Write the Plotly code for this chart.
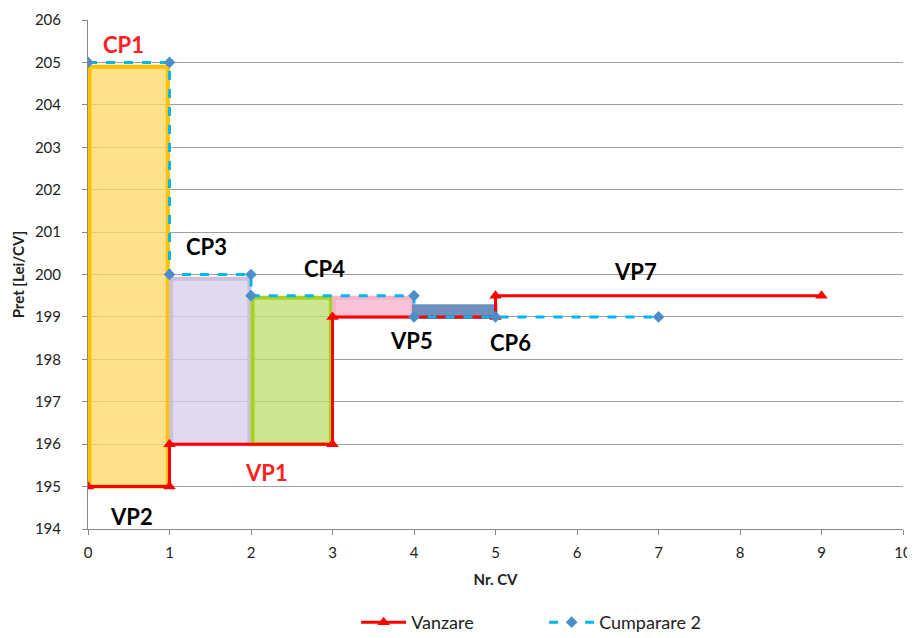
import plotly.graph_objects as go

# ---- data ----
vanzare_x = [0, 1, 1, 3, 3, 5, 5, 9]
vanzare_y = [195, 195, 196, 196, 199, 199, 199.5, 199.5]

cump_x = [0, 1, 1, 2, 2, 4, 4, 5, 7]
cump_y = [205, 205, 200, 200, 199.5, 199.5, 199, 199, 199]

block_x = [0.5, 1.5, 2.5, 3.5, 4.5]
block_width = [0.96, 0.96, 0.96, 0.96, 1.0]
block_base = [195, 196, 196, 199, 199]
block_height = [9.9, 3.9, 3.45, 0.45, 0.25]
block_fill = ["rgba(252,215,100,0.75)", "rgba(214,206,232,0.75)",
              "rgba(190,222,110,0.75)", "rgba(250,185,208,0.85)", "#6F8FBF"]
block_line = ["#FFC000", "#CCC1DA", "#A6D321", "#F9B3CB", "#6F8FBF"]

labels = ["CP1", "CP3", "CP4", "VP7", "VP5", "CP6", "VP1", "VP2"]
label_x = [0.43, 1.45, 2.9, 6.72, 3.97, 5.19, 2.19, 0.53]
label_y = [205.43, 200.67, 200.15, 200.06, 198.45, 198.4, 195.34, 194.3]
label_color = ["#FF2020", "black", "black", "black", "black", "black", "#FF2020", "black"]

x_ticks = list(range(0, 11))
y_ticks = list(range(194, 207))

fig = go.Figure()

fig.add_trace(go.Bar(
    x=block_x, y=block_height, base=block_base, width=block_width,
    marker=dict(color=block_fill, line=dict(color=block_line, width=4)),
    showlegend=False, hoverinfo="skip",
))

fig.add_trace(go.Scatter(
    x=vanzare_x, y=vanzare_y, name="Vanzare", mode="lines+markers",
    line=dict(color="#FF0000", width=3),
    marker=dict(symbol="triangle-up", size=11, color="#FF0000"),
))
fig.add_trace(go.Scatter(
    x=cump_x, y=cump_y, name="Cumparare 2", mode="lines+markers",
    line=dict(color="#00B8F0", width=3, dash="dash"),
    marker=dict(symbol="diamond", size=9, color="#4A8FCB"),
))

for t, lx, ly, c in zip(labels, label_x, label_y, label_color):
    fig.add_annotation(x=lx, y=ly, text=f"<b>{t}</b>", showarrow=False,
                       font=dict(size=22, color=c, family="Lato"))

fig.update_layout(
    width=907, height=633,
    margin=dict(l=80, r=12, t=12, b=112),
    plot_bgcolor="white", paper_bgcolor="white",
    font=dict(family="Lato", size=15, color="#222"),
    barmode="overlay",
    legend=dict(orientation="h", x=0.329, xanchor="left",
                yref="container", y=0.0, yanchor="bottom",
                font=dict(size=18, color="#222"), itemwidth=45,
                entrywidth=128, entrywidthmode="pixels",
                traceorder="normal"),
    xaxis=dict(range=[0, 10], tickvals=x_ticks, showgrid=False, zeroline=False,
               showline=True, linecolor="#888", linewidth=1, ticks="outside",
               ticklen=5, tickcolor="#888", ticklabelstandoff=5, automargin=False,
               title=dict(text="<b>Nr. CV</b>", font=dict(size=15), standoff=14)),
    yaxis=dict(range=[194, 206], tickvals=y_ticks, showgrid=True, gridcolor="#A0A0A0",
               gridwidth=1, zeroline=False, showline=True, linecolor="#888",
               linewidth=1, ticks="outside", ticklen=5, tickcolor="#888",
               ticklabelstandoff=18, automargin=False,
               title=dict(text="<b>Pret [Lei/CV]</b>", font=dict(size=15), standoff=6)),
)

fig.write_html("out.html")
